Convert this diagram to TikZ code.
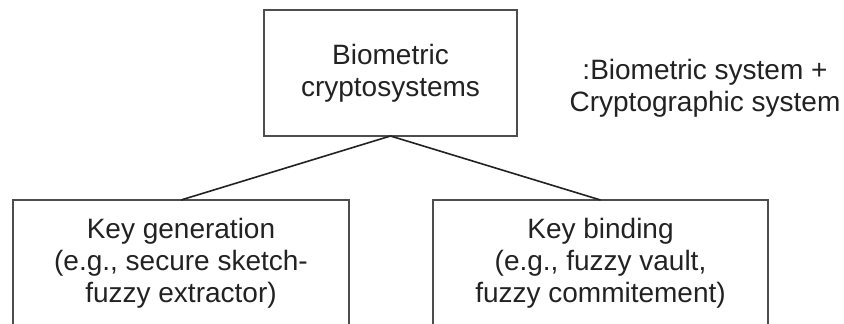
\documentclass[tikz,border=0pt]{standalone}
\usepackage{fontspec}
\setmainfont{Liberation Sans}
\usetikzlibrary{positioning}
\definecolor{boxline}{HTML}{4D4D4D}
\definecolor{inktext}{HTML}{222222}

\begin{document}
\begin{tikzpicture}[x=1pt,y=-1pt,
  box/.style={draw=boxline,line width=2pt,outer sep=0pt,inner sep=0pt,
    align=center,text=inktext,font=\fontsize{28}{32}\selectfont},
  link/.style={draw=inktext,line width=1.6pt}]
 \pgfmathsetmacro{\H}{126}
 \useasboundingbox (0,0) rectangle (844,324);
 \clip (0,0) rectangle (844,324);

 \node[box,minimum width=253pt,minimum height=\H pt] (bcs) at (390.5,73) {Biometric\\cryptosystems};
 \node[box,minimum width=336pt,minimum height=\H pt] (keygen) at (181,263) {Key generation\\(e.g., secure sketch-\\fuzzy extractor)};
 \node[box,minimum width=335pt,minimum height=\H pt,right=84pt of keygen] (keybind) {Key binding\\(e.g., fuzzy vault,\\fuzzy commitement)};
 \node[align=center,text=inktext,font=\fontsize{28}{32}\selectfont,inner sep=0pt] (note) at (705,88) {:Biometric system +\\Cryptographic system};

 \draw[link] (bcs.south) -- (keygen.north);
 \draw[link] (bcs.south) -- (keybind.north);

\end{tikzpicture}
\end{document}
